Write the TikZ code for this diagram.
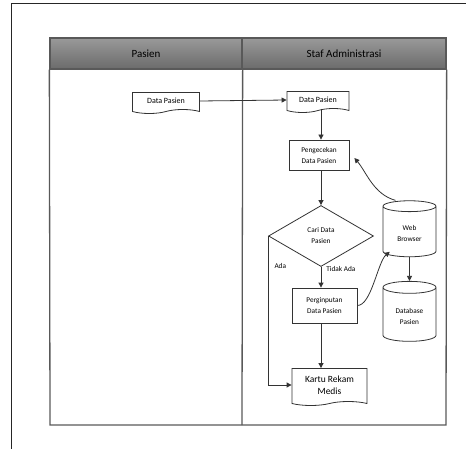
\documentclass[tikz,border=0pt]{standalone}
\usepackage{fontspec}
\setmainfont{Carlito}
\usepackage{tikz}
\usetikzlibrary{arrows.meta,positioning,calc,shapes.geometric,shapes.symbols}

\begin{document}
\begin{tikzpicture}[
  x=1pt, y=-1pt,
  line/.style={draw=black!80, line width=0.8pt},
  lane/.style={draw=black!65, line width=1.3pt},
  head/.style={lane, rectangle, minimum height=31pt, top color=black!40, bottom color=black!58, font=\fontsize{11}{12}\selectfont},
  doc/.style={line, tape, tape bend top=none, tape bend height=4pt, fill=white, align=center, font=\fontsize{8}{9}\selectfont, inner sep=1pt},
  proc/.style={line, rectangle, fill=white, align=center, font=\fontsize{7.3}{11}\selectfont, inner sep=1pt},
  decision/.style={line, diamond, fill=white, align=center, font=\fontsize{7.3}{11}\selectfont, inner sep=0pt},
  store/.style={line, cylinder, shape border rotate=90, aspect=0.35, fill=white, align=center, font=\fontsize{7.3}{11}\selectfont},
  lbl/.style={font=\fontsize{7.3}{9}\selectfont, inner sep=1pt},
  arrow/.style={line, -{Triangle[length=5pt, width=5pt]}}
]
  \useasboundingbox (0,0) rectangle (466,449);
  % page frame
  \draw[black!85, line width=1pt] (466,4) -- (11,4) -- (11,449);

  % swimlanes
  \node[head, minimum width=192pt] (hpasien) at (146,53.5) {Pasien};
  \node[head, minimum width=204pt] (hstaf) at (344,53.5) {Staf Administrasi};
  \draw[lane] (hpasien.south west) -- (50,425) -- (446,425) -- (hstaf.south east);
  \draw[lane] (hpasien.south east) -- (242,425);

  % nodes
  \node[doc, minimum width=67pt, minimum height=21pt] (datap) at (166,101) {Data Pasien};
  \node[doc, minimum width=62pt, minimum height=21pt] (datas) at (318,100) {Data Pasien};
  \node[proc, minimum width=60pt, minimum height=30pt] (cek) at (319,155) {Pengecekan\\Data Pasien};
  \node[decision, minimum width=105pt, minimum height=61pt] (cari) at (321,236) {Cari Data\\Pasien};
  \node[proc, minimum width=65pt, minimum height=35pt] (input) at (324.5,305.5) {Perginputan\\Data Pasien};
  \node[doc, minimum width=75pt, minimum height=37pt, font=\fontsize{9.5}{12}\selectfont] (kartu) at (329.5,385) {Kartu Rekam\\Medis};
  \node[store, minimum width=53pt, minimum height=56pt] (web) at (409.5,233) {Web\\Browser};
  \node[store, minimum width=53pt, minimum height=60pt] (db) at (409.5,316) {Database\\Pasien};

  % connectors
  \draw[arrow] (datap.east) -- (datas.west);
  \draw[arrow] (cari.north |- datas.south) -- (cari.north |- cek.north);
  \draw[arrow] (cari.north |- cek.south) -- (cari.north);
  \draw[arrow] (cari.south) -- node[lbl, right, xshift=4pt, pos=0.1] {Tidak Ada} (cari.south |- input.north);
  \draw[arrow] (cari.south |- input.south) -- (cari.south |- kartu.north);
  \draw[arrow] (cari.west) -- (cari.west |- kartu.west) node[lbl, pos=0.2, right, xshift=5pt] {Ada} -- (kartu.west);
  \draw[arrow] (web.south) -- (db.north);
  \draw[arrow] (input.east) .. controls +(14,0) and +(-12,10) .. ([xshift=2pt, yshift=3pt]web.south west);
  \draw[arrow] ([xshift=-14pt]web.north) .. controls +(-22,-6) and +(12,14) .. ([xshift=5pt, yshift=-3pt]cek.east);
\end{tikzpicture}
\end{document}
